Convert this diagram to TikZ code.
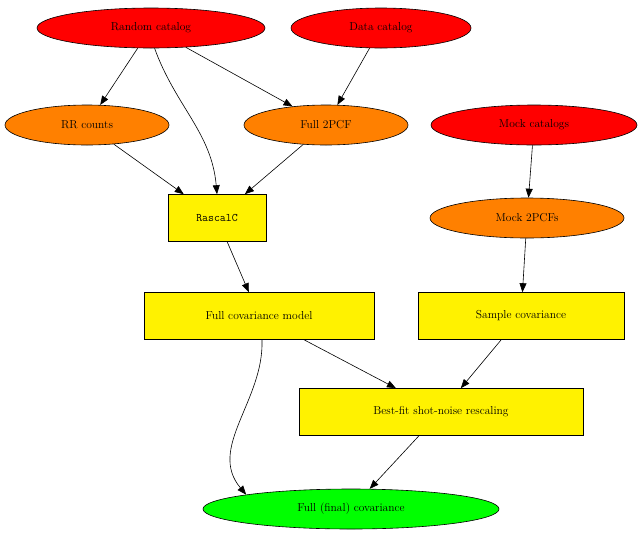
\documentclass[tikz,border=0pt]{standalone}
\usetikzlibrary{shapes.geometric,arrows.meta}
\begin{document}
\begin{tikzpicture}[x=1pt,y=-1pt,>={Triangle[length=9pt,width=7pt]},
  every node/.style={font=\fontsize{11.5}{13}\selectfont,draw,line width=0.6pt},
  ell/.style={ellipse,inner sep=0pt,minimum height=40pt},
  box/.style={rectangle,fill=yellow,inner sep=0pt,minimum height=47pt},
  edge/.style={->,line width=0.6pt}]
  \useasboundingbox (0,0) rectangle (643,539);

  %--- inputs ---
  \node[ell,fill=red,minimum width=228pt] (rand) at (151,28) {Random catalog};
  \node[ell,fill=red,minimum width=180pt] (data) at (381,28) {Data catalog};
  \node[ell,fill=red,minimum width=206pt] (mocks) at (534,125) {Mock catalogs};

  %--- intermediate products ---
  \node[ell,fill=orange,minimum width=164pt] (rr) at (87,125) {RR counts};
  \node[ell,fill=orange,minimum width=164pt] (pcf) at (326,125) {Full 2PCF};
  \node[ell,fill=orange,minimum width=194pt] (mpcf) at (527,218) {Mock 2PCFs};

  %--- processing ---
  \node[box,minimum width=98pt] (rascal) at (217,218) {\texttt{RascalC}};
  \node[box,minimum width=230pt] (model) at (259,316) {Full covariance model};
  \node[box,minimum width=206pt] (sample) at (521,316) {Sample covariance};
  \node[box,minimum width=284pt] (fit) at (441,412) {Best-fit shot-noise rescaling};

  %--- output ---
  \node[ell,fill=green,minimum width=296pt] (final) at (351,509) {Full (final) covariance};

  %--- connectors ---
  \draw[edge] (rand) -- (rr);
  \draw[edge] (rand.-80) to[out=-70,in=95] (rascal.north);
  \draw[edge] (rand) -- (pcf);
  \draw[edge] (data) -- (pcf);
  \draw[edge] (rr) -- (rascal);
  \draw[edge] (pcf) -- (rascal);
  \draw[edge] (mocks) -- (mpcf);
  \draw[edge] (mpcf) -- (sample);
  \draw[edge] (rascal) -- (model);
  \draw[edge] (model) -- (fit);
  \draw[edge] (model.south) ++(3,0) to[out=-88,in=130] (final.north west);
  \draw[edge] (sample) -- (fit);
  \draw[edge] (fit) -- (final);
\end{tikzpicture}
\end{document}
